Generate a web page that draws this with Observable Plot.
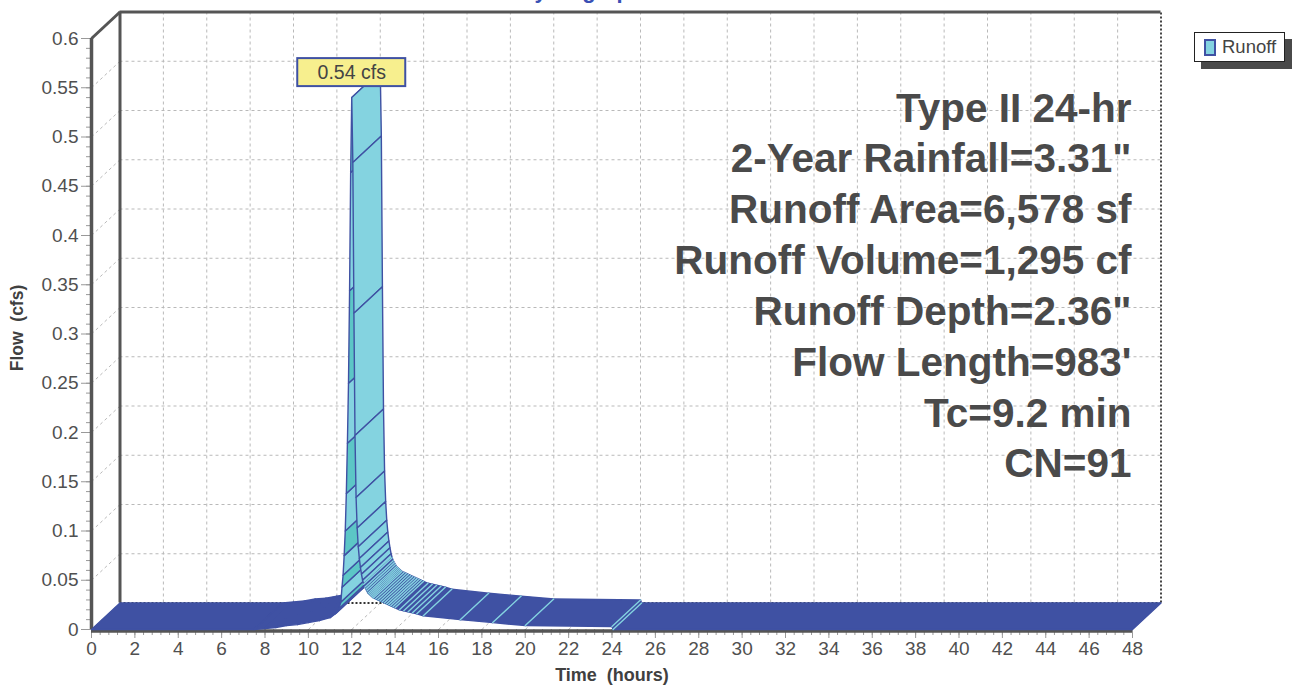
<!DOCTYPE html>
<html>
<head>
<meta charset="utf-8">
<script src="https://cdn.jsdelivr.net/npm/d3@7"></script>
<script src="https://cdn.jsdelivr.net/npm/@observablehq/plot@0.6"></script>
<style>
  body { margin: 0; background: #fff; font-family: "Liberation Sans", Arial, sans-serif; }
  #wrap { position: relative; width: 1294px; height: 685px; overflow: hidden; }
  #legend { position: absolute; left: 1194px; top: 32px; width: 89px; height: 28px;
            border: 1.5px solid #222; background: #fff; box-shadow: 7px 7px 0 #4a4a4a;
            display: flex; align-items: center; font-size: 18.5px; color: #444; }
  #legend .sw { display: inline-block; width: 8px; height: 13px; margin: 0 6px 0 9px;
                background: #84D3E0; border: 2px solid #3F51A3; }
</style>
</head>
<body>
<div id="wrap">
  <div id="chart"></div>
  <div id="legend"><span class="sw"></span><span id="legendText"></span></div>
</div>
<script>
// ---------------- data ----------------
const seriesName = "Runoff";
const times = [0, 7.5, 8.0, 8.5, 9.0, 9.5, 10.0, 10.5, 11.0, 11.25, 11.4, 11.5, 11.55, 11.6, 11.65, 11.7, 11.75, 11.8, 11.85, 11.9, 11.95, 12.0,
  12.05, 12.1, 12.15, 12.2, 12.25, 12.3, 12.35, 12.4, 12.45, 12.5, 12.55, 12.6, 12.65, 12.7, 12.75, 12.8, 12.85, 12.9, 12.95, 13.0,
  13.1, 13.2, 13.3, 13.4, 13.5, 13.6, 13.7, 13.8, 13.9, 14.0, 14.2, 14.4, 14.6, 14.8, 15.0, 15.3, 17.0, 18.5, 20.0, 24.0, 24.05, 48.0];
const flows = [0, 0, 0.001, 0.002, 0.004, 0.005, 0.007, 0.009, 0.012, 0.016, 0.021, 0.028, 0.043, 0.055, 0.075, 0.100, 0.138, 0.189, 0.250, 0.344, 0.464, 0.540,
  0.474, 0.321, 0.197, 0.134, 0.103, 0.084, 0.072, 0.063, 0.056, 0.050, 0.046, 0.043, 0.041, 0.039, 0.037, 0.036, 0.035, 0.034, 0.033, 0.032,
  0.031, 0.030, 0.029, 0.028, 0.027, 0.026, 0.025, 0.024, 0.023, 0.022, 0.020, 0.019, 0.018, 0.017, 0.016, 0.014, 0.010, 0.007, 0.004, 0.003, 0, 0];
const yTicks = [0, 0.05, 0.1, 0.15, 0.2, 0.25, 0.3, 0.35, 0.4, 0.45, 0.5, 0.55, 0.6];
const yTickLabels = ["0", "0.05", "0.1", "0.15", "0.2", "0.25", "0.3", "0.35", "0.4", "0.45", "0.5", "0.55", "0.6"];
const xTicks = [0, 2, 4, 6, 8, 10, 12, 14, 16, 18, 20, 22, 24, 26, 28, 30, 32, 34, 36, 38, 40, 42, 44, 46, 48];
const infoLines = ["Type II 24-hr", "2-Year Rainfall=3.31\"", "Runoff Area=6,578 sf", "Runoff Volume=1,295 cf",
  "Runoff Depth=2.36\"", "Flow Length=983'", "Tc=9.2 min", "CN=91"];
const titleText = "Hydrograph";
const xTitle = "Time  (hours)";
const yTitle = "Flow  (cfs)";
const peakUnit = "cfs";

// ---------------- layout ----------------
const W = 1294, H = 685, ML = 91, MR = 162, MT = 38, MB = 56;
const xDomain = [0, 48], yDomain = [0, 0.6];
const DEPTH_X = 28.5, DEPTH_Y = 26.5;            // oblique depth in pixels
const pxPerX = (W - ML - MR) / (xDomain[1] - xDomain[0]);
const pxPerY = (H - MT - MB) / (yDomain[1] - yDomain[0]);
const Dt = DEPTH_X / pxPerX, Dq = DEPTH_Y / pxPerY; // depth in data units

const DARK = "#3F51A3", LIGHT = "#84D3E0", TEAL = "#5CC6C6";
const AXIS = "#555555", GRID = "#b9b9b9", TXT = "#505050";

document.getElementById("legendText").textContent = seriesName;

// ---------------- ribbon quads ----------------
const pts = times.map((t, i) => ({t, q: flows[i]}));
const peakIndex = d3.maxIndex(pts, d => d.q);
const peak = pts[peakIndex];
const rows = [];
for (let i = 0; i < pts.length - 1; i++) {
  const a = pts[i], b = pts[i + 1];
  const slope = Math.abs((b.q - a.q) * pxPerY / ((b.t - a.t) * pxPerX));
  const steep = slope > 1 && Math.abs(b.q - a.q) * pxPerY > 3;
  let fill = DARK, stroke = DARK;
  if (steep) {
    fill = (b.q > a.q && (peakIndex - (i + 1)) % 2 === 0) ? TEAL : LIGHT;
  }
  const id = "q" + i;
  for (const [t, q] of [[a.t, a.q], [b.t, b.q], [b.t + Dt, b.q + Dq], [a.t + Dt, a.q + Dq], [a.t, a.q]]) {
    rows.push({id, t, q, fill, stroke});
  }
  if (!steep && i > 0 && pts[i - 1].q > a.q) {
    rows.push({id: "d" + i, t: a.t, q: a.q, fill: "none", stroke: LIGHT});
    rows.push({id: "d" + i, t: a.t + Dt, q: a.q + Dq, fill: "none", stroke: LIGHT});
  }
}

const minorY = d3.range(0, 0.6001, 0.01);
const minorX = d3.range(0, 48.001, 0.4);
const innerY = yTicks.slice(1, -1);
const innerX = xTicks.slice(1, -1);

const chart = Plot.plot({
  width: W, height: H,
  marginLeft: ML, marginRight: MR, marginTop: MT, marginBottom: MB,
  x: {domain: xDomain, axis: null},
  y: {domain: yDomain, axis: null},
  color: {type: "identity"},
  style: {fontFamily: "'Liberation Sans', Arial, sans-serif", overflow: "hidden", background: "#fff"},
  marks: [
    // back wall grid
    Plot.ruleY(innerY, {y: d => d + Dq, x1: Dt, x2: xDomain[1] + Dt, stroke: GRID, strokeDasharray: "3,3"}),
    Plot.ruleX(innerX, {x: d => d + Dt, y1: Dq, y2: yDomain[1] + Dq, stroke: GRID, strokeDasharray: "3,3"}),
    // side wall and floor diagonals
    Plot.link(yTicks.slice(0, -1), {x1: 0, y1: d => d, x2: Dt, y2: d => d + Dq, stroke: GRID, strokeDasharray: "3,3"}),
    Plot.link(xTicks, {x1: d => d, y1: 0, x2: d => d + Dt, y2: Dq, stroke: GRID, strokeDasharray: "3,3"}),
    // back frame
    Plot.ruleY([Dq], {x1: Dt, x2: xDomain[1] + Dt, stroke: "#333", strokeWidth: 2, strokeDasharray: "2,2"}),
    Plot.ruleX([xDomain[1] + Dt], {y1: Dq, y2: yDomain[1] + Dq, stroke: "#444", strokeWidth: 2, strokeDasharray: "2,2"}),
    Plot.ruleX([Dt], {y1: Dq, y2: yDomain[1] + Dq, stroke: AXIS, strokeWidth: 3}),
    Plot.ruleY([yDomain[1] + Dq], {x1: Dt, x2: xDomain[1] + Dt, stroke: AXIS, strokeWidth: 3}),
    Plot.link([yDomain[1]], {x1: 0, y1: d => d, x2: Dt, y2: d => d + Dq, stroke: AXIS, strokeWidth: 3}),
    // front axes
    Plot.axisY(minorY, {tickSize: 5, tickFormat: () => "", stroke: "#999", label: null}),
    Plot.axisY(yTicks, {tickSize: 10, tickFormat: () => "", stroke: "#999", label: null}),
    Plot.axisY(yTicks, {tickSize: 0, tickPadding: 13, tickFormat: (d, i) => yTickLabels[i], fontSize: 19, fill: TXT, label: null}),
    Plot.axisX(minorX, {tickSize: 6, tickFormat: () => "", stroke: "#999", label: null}),
    Plot.axisX(xTicks, {tickSize: 9, tickFormat: () => "", stroke: "#999", label: null}),
    Plot.axisX(xTicks, {tickSize: 0, tickPadding: 12, tickFormat: d => String(d), fontSize: 19, fill: TXT, label: null}),
    Plot.ruleX([0], {y1: yDomain[0], y2: yDomain[1], stroke: AXIS, strokeWidth: 3.5}),
    Plot.ruleY([0], {x1: xDomain[0], x2: xDomain[1], stroke: AXIS, strokeWidth: 3.5, dy: 1.5}),
    // hydrograph ribbon
    Plot.line(rows, {x: "t", y: "q", z: "id", fill: "fill", stroke: "stroke", strokeWidth: 1.4, curve: "linear", strokeLinejoin: "round"}),
    // peak label
    Plot.rect([peak], {x1: "t", x2: "t", y1: "q", y2: "q", insetLeft: -54, insetRight: -54, insetTop: -39, insetBottom: 11,
      fill: "#F7EF8E", stroke: DARK, strokeWidth: 2}),
    Plot.text([peak], {x: "t", y: "q", text: d => `${d.q} ${peakUnit}`, dy: -25, fontSize: 19.5, fill: "#444"}),
    // info block
    Plot.text([infoLines.join("\n")], {frameAnchor: "top-right", textAnchor: "end", lineAnchor: "top", lineHeight: 1.255,
      fontSize: 40.5, fontWeight: "bold", fill: "#4a4a4a", dx: -1, dy: 47}),
    // axis titles
    Plot.text([yTitle.replace("  ", "\u00a0 ")], {frameAnchor: "left", textAnchor: "middle", rotate: -90, dx: -74, dy: -6,
      fontSize: 17.5, fontWeight: "bold", fill: "#404040"}),
    Plot.text([xTitle.replace("  ", "\u00a0 ")], {frameAnchor: "bottom", dy: 51, fontSize: 18, fontWeight: "bold", fill: "#404040"}),
    // title (clipped at the top edge, as in the original)
    Plot.text([titleText], {frameAnchor: "top", dx: -31, dy: -56, fontSize: 22, fontWeight: "bold", fill: "#3A50B5"})
  ]
});
document.getElementById("chart").appendChild(chart);
</script>
</body>
</html>
